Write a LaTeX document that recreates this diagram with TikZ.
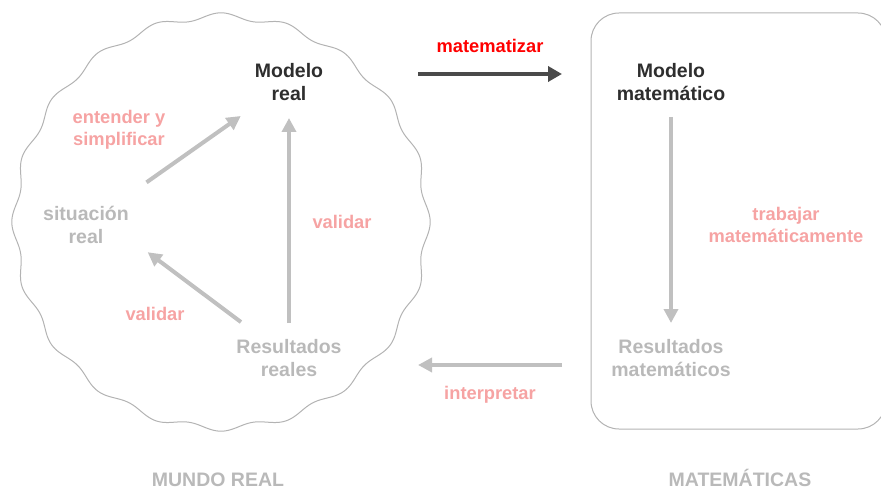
\documentclass[tikz,border=0pt]{standalone}
\usepackage{fontspec}
\setmainfont{Liberation Sans}
\usetikzlibrary{shapes,arrows.meta}
\definecolor{oscuro}{HTML}{2E2E2E}
\definecolor{gris}{HTML}{B9B9B9}
\definecolor{rosa}{HTML}{F6A3A3}
\definecolor{rojo}{HTML}{FF0000}
\definecolor{flechagris}{HTML}{C0C0C0}
\definecolor{flechaosc}{HTML}{4A4A4A}
\definecolor{borde}{HTML}{B3B3B3}
\tikzstyle{etapa} = [align=center, inner sep=0pt, font=\bfseries\fontsize{19.5}{23}\selectfont]
\tikzstyle{accion} = [align=center, inner sep=0pt, text=rosa, font=\bfseries\fontsize{18.3}{22}\selectfont]
\tikzstyle{mundo} = [inner sep=0pt, anchor=base, text=gris, font=\bfseries\fontsize{19.5}{23}\selectfont]
\tikzstyle{paso} = [draw=flechagris, line width=4pt, -{Triangle[length=14pt,width=14pt]}]
\tikzstyle{pasoosc} = [draw=flechaosc, line width=4pt, -{Triangle[length=14pt,width=15pt]}]

\begin{document}
\begin{tikzpicture}[x=1pt,y=-1pt]
		\useasboundingbox (0,0) rectangle (881,489);
		% mundo real y matematicas
		\draw [borde, line width=1pt, shift={(221,222)}] plot [domain=0:360, samples=720, smooth] (\x:{206+3.2*cos(20*\x)}) -- cycle;
		\draw [borde, line width=1pt, rounded corners=28pt] (591,13) rectangle (886,429);
		
		\node [etapa, text=oscuro] (mreal) at (289,82) {Modelo\\real};
		\node [etapa, text=gris, below of=mreal, node distance=276pt] (rreal) {Resultados\\reales};
		\node [etapa, text=gris] (sreal) at (86,225) {situación\\real};
		\node [etapa, text=oscuro, right of=mreal, node distance=382pt] (mmat) {Modelo\\matemático};
		\node [etapa, text=gris, below of=mmat, node distance=276pt] (rmat) {Resultados\\matemáticos};
		
		\node [accion] (entender) at (119,130) {entender y\\simplificar};
		\node [accion] (validaruno) at (342,222) {validar};
		\node [accion] (validardos) at (155,314) {validar};
		\node [accion, text=rojo] (matematizar) at (490,46) {matematizar};
		\node [accion] (interpretar) at (490,395) {interpretar};
		\node [accion] (trabajar) at (786,225) {trabajar\\matemáticamente};
		
		\node [mundo] (mundoreal) at (218,486) {MUNDO REAL};
		\node [mundo] (matematicas) at (740,486) {MATEMÁTICAS};
		
		\draw [paso, shorten <=74pt, shorten >=59pt] (sreal.center) -- (mreal.center);
		\draw [paso, shorten <=35pt, shorten >=36pt] (rreal.center) -- (mreal.center);
		\draw [paso, shorten <=60pt, shorten >=77pt] (rreal.center) -- (sreal.north);
		\draw [pasoosc, shorten <=129pt, shorten >=109pt] ([yshift=8pt]mreal.center) -- ([yshift=8pt]mmat.center);
		\draw [paso, shorten <=35pt, shorten >=35pt] (mmat.center) -- (rmat.center);
		\draw [paso, shorten <=109pt, shorten >=129pt] ([yshift=-7pt]rmat.center) -- ([yshift=-7pt]rreal.center);
		
		
\end{tikzpicture}
\end{document}
